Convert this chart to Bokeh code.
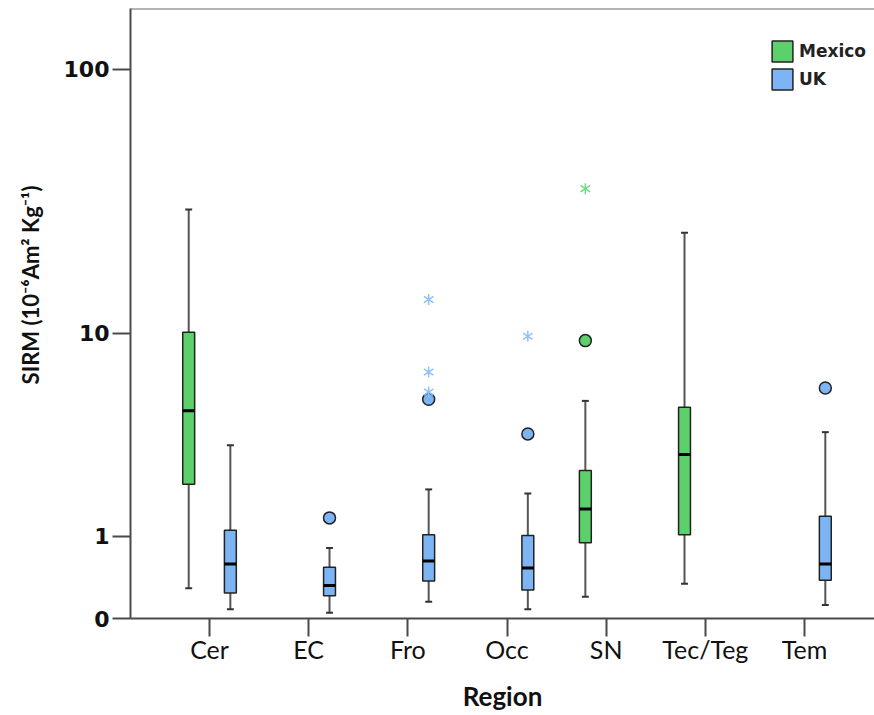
import numpy as np
from bokeh.plotting import figure
from bokeh.models import (ColumnDataSource, FixedTicker, CustomJSTickFormatter,
                          Range1d, Span, Title, Legend, LegendItem)
from bokeh.embed import file_html
from bokeh.resources import INLINE

# Regions on the x axis
regions = ["Cer", "EC", "Fro", "Occ", "SN", "Tec/Teg", "Tem"]

# Box summaries (SIRM, 10^-6 Am^2 Kg^-1)
box_region = ["Cer", "Cer", "EC", "Fro", "Occ", "SN", "Tec/Teg", "Tem"]
box_group = ["Mexico", "UK", "UK", "UK", "UK", "Mexico", "Mexico", "UK"]
whisker_low = [0.29, 0.08, 0.05, 0.15, 0.08, 0.20, 0.34, 0.12]
q1 = [2.09, 0.24, 0.21, 0.37, 0.27, 0.89, 1.02, 0.38]
median = [4.74, 0.58, 0.32, 0.62, 0.53, 1.51, 2.97, 0.58]
q3 = [10.1, 1.10, 0.54, 1.02, 1.01, 2.47, 4.90, 1.36]
whisker_high = [30.1, 3.29, 0.81, 1.96, 1.86, 5.23, 24.6, 3.79]

# Outliers (circles) and extreme values (stars)
outlier_region = ["EC", "Fro", "Occ", "SN", "Tem"]
outlier_group = ["UK", "UK", "UK", "Mexico", "UK"]
outlier_value = [1.33, 5.32, 3.72, 9.34, 5.94]
extreme_region = ["Fro", "Fro", "Fro", "Occ", "SN"]
extreme_group = ["UK", "UK", "UK", "UK", "Mexico"]
extreme_value = [13.6, 6.94, 5.71, 9.72, 36.1]

y_tick_values = [0, 1, 10, 100]
groups = ["Mexico", "UK"]

fill = {"Mexico": "#5bd06b", "UK": "#7db4f4"}
star_color = {"Mexico": "#6ddc7c", "UK": "#8fc0f7"}
shift = {"Mexico": -0.21, "UK": 0.21}
BOX_W = 0.12
CAP_W = 0.035


def tr(v):
    # log10(v + 1) keeps zero on the axis
    return np.log10(np.asarray(v, dtype=float) + 1.0)


def xpos(reg, grp):
    return [regions.index(r) + 1 + shift[g] for r, g in zip(reg, grp)]


p = figure(width=874, height=715, output_backend="svg", toolbar_location=None,
           x_range=Range1d(0.203, 7.706), y_range=Range1d(0, 2.227),
           min_border_left=130, min_border_right=0, min_border_top=8,
           min_border_bottom=97)
p.outline_line_color = None
p.xgrid.visible = False
p.ygrid.visible = False
p.background_fill_color = "white"
p.border_fill_color = "white"

axis_col = "#4a4a4a"
for ax in (p.xaxis[0], p.yaxis[0]):
    ax.axis_line_color = axis_col
    ax.axis_line_width = 2
    ax.major_tick_line_color = axis_col
    ax.major_tick_line_width = 2
    ax.major_tick_out = 18
    ax.major_tick_in = 0
    ax.minor_tick_line_color = None

p.yaxis.ticker = FixedTicker(ticks=[float(t) for t in tr(y_tick_values)])
p.yaxis.formatter = CustomJSTickFormatter(
    code="return String(Math.round(Math.pow(10, tick) - 1));")
p.yaxis.major_label_text_font = "DejaVu Sans"
p.yaxis.major_label_text_font_style = "bold"
p.yaxis.major_label_text_font_size = "22px"
p.yaxis.major_label_text_color = "#111111"
p.yaxis.major_label_standoff = 3

p.xaxis.ticker = FixedTicker(ticks=list(range(1, len(regions) + 1)))
p.xaxis.major_label_overrides = {i + 1: r for i, r in enumerate(regions)}
p.xaxis.major_label_text_font = "Lato"
p.xaxis.major_label_text_font_size = "25px"
p.xaxis.major_label_text_color = "#111111"
p.xaxis.major_label_standoff = -3
p.xaxis.axis_label = "Region"
p.xaxis.axis_label_text_font = "Lato"
p.xaxis.axis_label_text_font_style = "bold"
p.xaxis.axis_label_text_font_size = "26px"
p.xaxis.axis_label_text_color = "#111111"
p.xaxis.axis_label_standoff = 13

# top border of the frame
p.add_layout(Span(location=2.227, dimension="width", line_color="#6a6a6a",
                  line_width=2))

# y axis title, anchored from the top of the frame
p.add_layout(Title(text="SIRM (10\u207b\u2076Am\u00b2 Kg\u207b\u00b9)",
                   align="right", vertical_align="top", offset=177,
                   standoff=30, text_font="Lato", text_font_style="bold",
                   text_font_size="22px", text_color="#111111"), "left")

box_renderers = {}
for g in groups:
    idx = [i for i, bg in enumerate(box_group) if bg == g]
    xs = xpos([box_region[i] for i in idx], [g] * len(idx))
    src = ColumnDataSource(dict(
        x=xs,
        lo=tr([whisker_low[i] for i in idx]),
        q1=tr([q1[i] for i in idx]),
        med=tr([median[i] for i in idx]),
        q3=tr([q3[i] for i in idx]),
        hi=tr([whisker_high[i] for i in idx]),
        cap_l=[x - CAP_W for x in xs], cap_r=[x + CAP_W for x in xs],
        med_l=[x - BOX_W / 2 for x in xs], med_r=[x + BOX_W / 2 for x in xs],
    ))
    p.segment(x0="x", y0="lo", x1="x", y1="q1", source=src,
              line_color="#555555", line_width=2)
    p.segment(x0="x", y0="q3", x1="x", y1="hi", source=src,
              line_color="#555555", line_width=2)
    p.segment(x0="cap_l", y0="lo", x1="cap_r", y1="lo", source=src,
              line_color="#333333", line_width=2)
    p.segment(x0="cap_l", y0="hi", x1="cap_r", y1="hi", source=src,
              line_color="#333333", line_width=2)
    box_renderers[g] = p.vbar(x="x", width=BOX_W, bottom="q1", top="q3",
                              source=src, fill_color=fill[g],
                              line_color="#222222", line_width=1.5)
    p.segment(x0="med_l", y0="med", x1="med_r", y1="med", source=src,
              line_color="#000000", line_width=3)

    # outliers
    oi = [i for i, og in enumerate(outlier_group) if og == g]
    osrc = ColumnDataSource(dict(
        x=xpos([outlier_region[i] for i in oi], [g] * len(oi)),
        y=tr([outlier_value[i] for i in oi])))
    p.scatter(x="x", y="y", source=osrc, marker="circle", size=12,
              fill_color=fill[g], line_color="#222222", line_width=1.5)

    # extremes drawn as six-point stars
    ei = [i for i, eg in enumerate(extreme_group) if eg == g]
    esrc = ColumnDataSource(dict(
        x=xpos([extreme_region[i] for i in ei], [g] * len(ei)),
        y=tr([extreme_value[i] for i in ei])))
    for ang in (0, np.pi):
        p.scatter(x="x", y="y", source=esrc, marker="y", size=11, angle=ang,
                  line_color=star_color[g], line_width=1.5)

legend = Legend(items=[LegendItem(label=g, renderers=[box_renderers[g]])
                       for g in groups],
                location=(639, 526), orientation="vertical",
                glyph_width=26, glyph_height=26, label_height=26,
                spacing=2, padding=0, margin=0, label_standoff=4,
                label_text_font="DejaVu Sans", label_text_font_style="bold",
                label_text_font_size="17px", label_text_color="#222222",
                border_line_color=None, background_fill_alpha=0)
p.add_layout(legend)

open("out.html", "w").write(file_html(p, INLINE))
